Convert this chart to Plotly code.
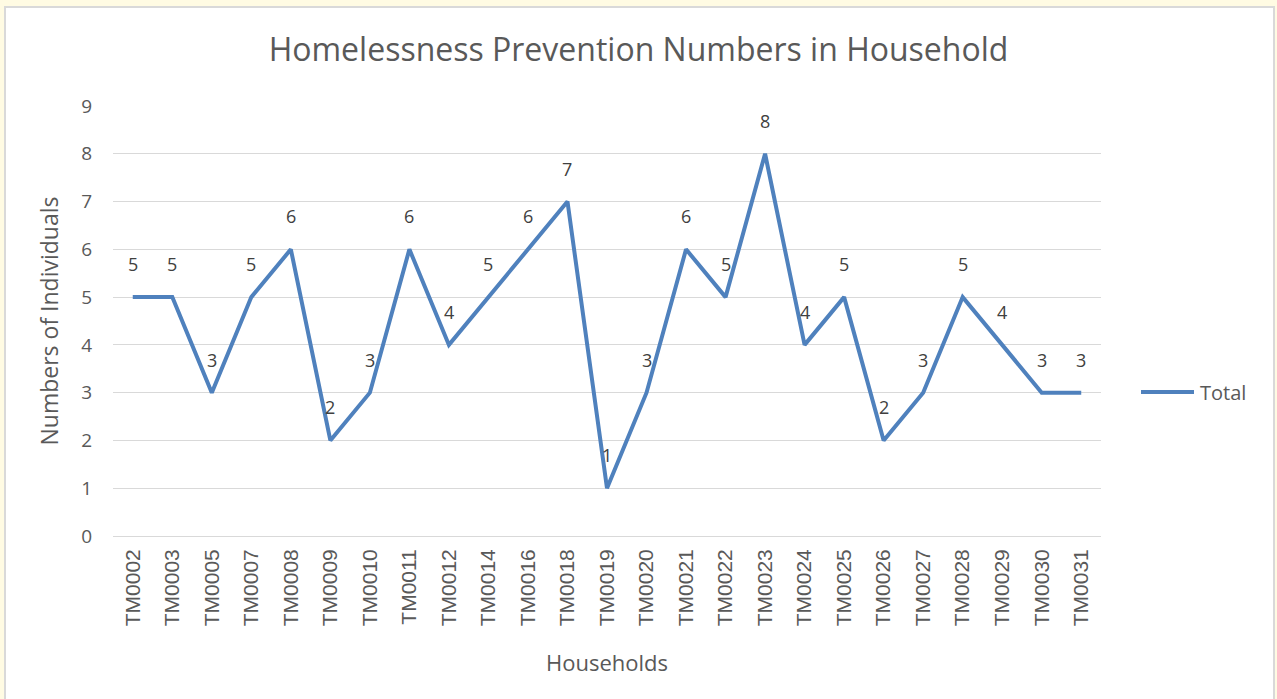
import plotly.graph_objects as go

households = ["TM0002", "TM0003", "TM0005", "TM0007", "TM0008", "TM0009", "TM0010",
              "TM0011", "TM0012", "TM0014", "TM0016", "TM0018", "TM0019", "TM0020",
              "TM0021", "TM0022", "TM0023", "TM0024", "TM0025", "TM0026", "TM0027",
              "TM0028", "TM0029", "TM0030", "TM0031"]
totals = [5, 5, 3, 5, 6, 2, 3, 6, 4, 5, 6, 7, 1, 3, 6, 5, 8, 4, 5, 2, 3, 5, 4, 3, 3]
series_name = "Total"

W, H = 1277, 699
L, R, T, B = 113, 1101, 106, 536
pw, ph = R - L, B - T
LINE_COLOR = "#4F81BD"
TEXT_COLOR = "#595959"

fig = go.Figure()
fig.add_trace(go.Scatter(
    x=households, y=totals, mode="lines", name=series_name,
    line=dict(color=LINE_COLOR, width=4), showlegend=False,
))

annotations = [
    dict(x=h, y=v, xref="x", yref="y", text=str(v), showarrow=False,
         yshift=33, font=dict(family="Open Sans", size=18, color="#404040"))
    for h, v in zip(households, totals)
]
# legend (drawn manually for a longer line sample)
leg_y = (B - 392) / ph
annotations.append(dict(x=(1198 - L) / pw, y=leg_y, xref="paper", yref="paper",
                        text=series_name, showarrow=False, xanchor="left", yanchor="middle",
                        font=dict(family="Open Sans", size=20, color=TEXT_COLOR)))

fig.update_layout(
    width=W, height=H,
    margin=dict(l=L, r=W - R, t=T, b=H - B, autoexpand=False),
    paper_bgcolor="#FFFBE3",
    plot_bgcolor="white",
    title=dict(text="Homelessness Prevention Numbers in Household",
               x=0.5, xanchor="center", y=1 - 50 / H, yanchor="middle",
               font=dict(family="Open Sans", size=32, color=TEXT_COLOR)),
    xaxis=dict(
        title=dict(text="Households", font=dict(family="Open Sans", size=22, color=TEXT_COLOR),
                   standoff=30),
        tickangle=-90, showgrid=False, showline=False, ticks="", ticklabelstandoff=8,
        tickfont=dict(family="Liberation Sans", size=21, color=TEXT_COLOR),
        range=[-0.5, len(households) - 0.5],
    ),
    yaxis=dict(
        title=dict(text="Numbers of Individuals", font=dict(family="Open Sans", size=23, color=TEXT_COLOR),
                   standoff=16),
        range=[0, 9], dtick=1, showgrid=True, gridcolor="#D9D9D9", gridwidth=1.3,
        zeroline=True, zerolinecolor="#D9D9D9", zerolinewidth=1.3,
        showline=False, ticks="", ticklabelstandoff=20,
        tickfont=dict(family="Open Sans", size=19, color=TEXT_COLOR),
    ),
    showlegend=False,
    annotations=annotations,
    shapes=[
        dict(type="rect", xref="paper", yref="paper", layer="below",
             x0=(5 - L) / pw, x1=(1274 - L) / pw,
             y0=(B - 710) / ph, y1=(B - 7) / ph,
             fillcolor="white", line=dict(color="#D9D9D9", width=2)),
        dict(type="line", xref="paper", yref="paper",
             x0=(1141 - L) / pw, x1=(1194 - L) / pw, y0=leg_y, y1=leg_y,
             line=dict(color=LINE_COLOR, width=4)),
    ],
)

fig.write_html("out.html", config={"displayModeBar": False},
               post_script="document.body.style.margin='0';document.body.style.background='#FFFBE3';")
